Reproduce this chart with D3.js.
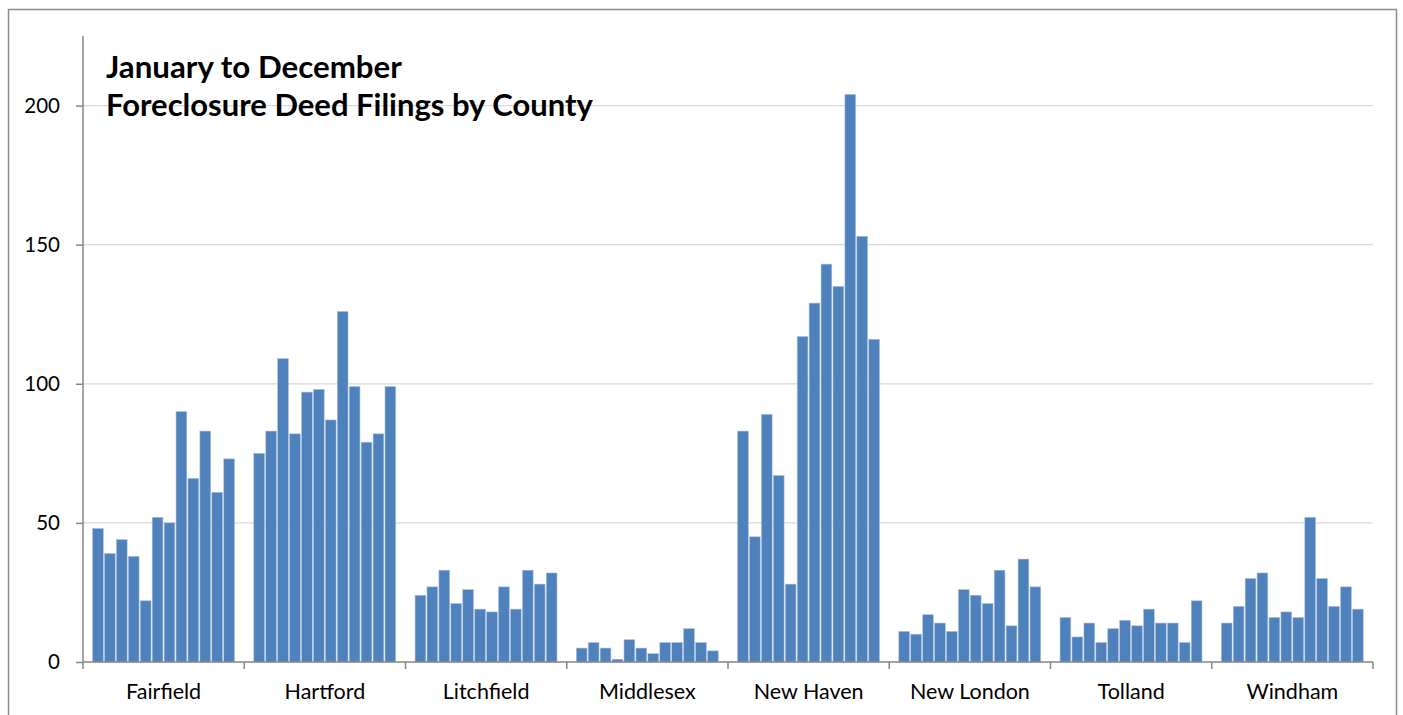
<!DOCTYPE html>
<html><head><meta charset="utf-8">
<script src="https://cdn.jsdelivr.net/npm/d3@7"></script>
<style>body{margin:0;background:#fff}svg{display:block}text{font-family:Lato,"Open Sans",sans-serif}</style>
</head><body>
<svg id="c" width="1403" height="715"></svg>
<script>
const counties = ["Fairfield","Hartford","Litchfield","Middlesex","New Haven","New London","Tolland","Windham"];
const months = ["Jan","Feb","Mar","Apr","May","Jun","Jul","Aug","Sep","Oct","Nov","Dec"];
const fairfield  = [48,39,44,38,22,52,50,90,66,83,61,73];
const hartford   = [75,83,109,82,97,98,87,126,99,79,82,99];
const litchfield = [24,27,33,21,26,19,18,27,19,33,28,32];
const middlesex  = [5,7,5,1,8,5,3,7,7,12,7,4];
const newHaven   = [83,45,89,67,28,117,129,143,135,204,153,116];
const newLondon  = [11,10,17,14,11,26,24,21,33,13,37,27];
const tolland    = [16,9,14,7,12,15,13,19,14,14,7,22];
const windham    = [14,20,30,32,16,18,16,52,30,20,27,19];
const yTicks = [0,50,100,150,200];
const titleLines = ["January to December","Foreclosure Deed Filings by County"];

const seriesByCounty = [fairfield,hartford,litchfield,middlesex,newHaven,newLondon,tolland,windham];
const data = counties.map((c,i)=>({county:c, values:seriesByCounty[i].map((v,j)=>({month:months[j], value:v}))}));

const svg = d3.select("#c");
const L=83, R=1373, T=36, B=662;

svg.append("rect").attr("x",8.5).attr("y",9.5).attr("width",1388).attr("height",740)
  .attr("fill","none").attr("stroke","#8c8c8c").attr("stroke-width",1.5);

const y = d3.scaleLinear().domain([0,225]).range([B,T]);
const x0 = d3.scaleBand().domain(counties).range([L,R]).paddingInner(0).paddingOuter(0);
const x1 = d3.scaleBand().domain(months).range([0,x0.bandwidth()]).paddingInner(0).paddingOuter(0.76);

// gridlines
svg.append("g").selectAll("line").data(yTicks.filter(d=>d>0)).join("line")
  .attr("x1",L).attr("x2",R).attr("y1",d=>y(d)).attr("y2",d=>y(d))
  .attr("stroke","#d9d9d9").attr("stroke-width",1.3);

// bars
const g = svg.append("g").selectAll("g").data(data).join("g")
  .attr("transform",d=>`translate(${x0(d.county)},0)`);
g.selectAll("rect").data(d=>d.values).join("rect")
  .attr("x",d=>x1(d.month)+0.5).attr("width",x1.bandwidth()-1.2)
  .attr("y",d=>y(d.value)).attr("height",d=>B-y(d.value))
  .attr("fill","#4f81bd").attr("stroke","#a9c0de").attr("stroke-width",0.6);

// y axis
const ya = svg.append("g").attr("transform",`translate(${L},0)`)
  .call(d3.axisLeft(y).tickValues(yTicks).tickSize(7).tickPadding(16));
ya.select(".domain").attr("d",`M0,${T}V${B}`).attr("stroke","#868686").attr("stroke-width",1.5);
ya.selectAll(".tick line").attr("stroke","#868686").attr("stroke-width",1.5);
ya.selectAll(".tick text").attr("font-size",20.5).attr("fill","#000").attr("font-family","Lato");

// x axis
const xa = svg.append("g").attr("transform",`translate(0,${B})`)
  .call(d3.axisBottom(x0).tickSize(0).tickPadding(22));
xa.select(".domain").attr("d",`M${L},0H${R}`).attr("stroke","#868686").attr("stroke-width",1.5);
xa.selectAll(".tick text").attr("font-size",21.5).attr("fill","#000").attr("font-family","Lato");
svg.append("g").selectAll("line").data(counties.concat(["__end"])).join("line")
  .attr("x1",(d,i)=>i<counties.length?x0(d):R).attr("x2",(d,i)=>i<counties.length?x0(d):R)
  .attr("y1",B).attr("y2",B+7).attr("stroke","#868686").attr("stroke-width",1.5);

// title
const tw = [296,487];
svg.append("g").selectAll("text").data(titleLines).join("text")
  .attr("x",106).attr("y",(d,i)=>i===0?78:116)
  .attr("font-weight","bold").attr("font-size",25).attr("fill","#000")
  .text(d=>d)
  .each(function(d,i){const w=this.getComputedTextLength(); d3.select(this).attr("font-size",25*tw[i]/w);});
</script>
</body></html>
